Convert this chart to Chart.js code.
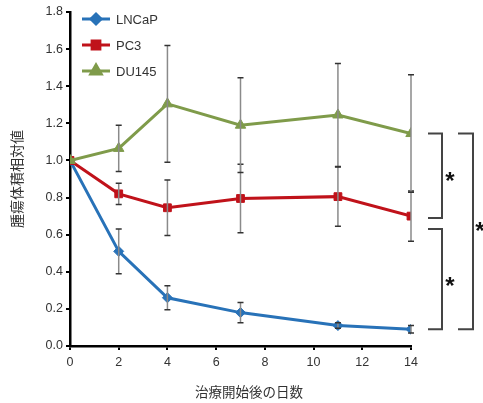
<!DOCTYPE html>
<html>
<head>
<meta charset="utf-8">
<script src="https://cdn.jsdelivr.net/npm/chart.js@4"></script>
<style>
  html, body { margin: 0; padding: 0; background: #fff; }
  #wrap { width: 483px; height: 403px; }
</style>
</head>
<body>
<div id="wrap"><canvas id="myChart" width="483" height="403"></canvas></div>
<script>
// data
const days = [0, 2, 4, 7, 11, 14];
const xTicks = [0, 2, 4, 6, 8, 10, 12, 14];
const lncapValues = [1.0, 0.51, 0.26, 0.18, 0.11, 0.09];
const lncapErrors = [0, 0.12, 0.065, 0.055, 0.015, 0.02];
const pc3Values = [1.0, 0.82, 0.745, 0.795, 0.805, 0.70];
const pc3Errors = [0, 0.057, 0.15, 0.185, 0.16, 0.135];
const du145Values = [1.0, 1.065, 1.305, 1.19, 1.245, 1.145];
const du145Errors = [0, 0.125, 0.315, 0.255, 0.278, 0.317];
const seriesNames = ['LNCaP', 'PC3', 'DU145'];
const yTitle = '腫瘍体積相対値';
const xTitle = '治療開始後の日数';

const BLUE = 'rgb(40, 114, 184)';
const RED = 'rgb(192, 18, 26)';
const GREEN = 'rgb(127, 155, 74)';

function pts(vals) {
    return days.map((d, i) => ({ x: d, y: vals[i] }));
}

// error bars, drawn over the lines
const errorBars = {
    id: 'errorBars',
    afterDatasetsDraw(chart) {
        const ctx = chart.ctx;
        const ys = chart.scales.y, xs = chart.scales.x;
        const sets = [[lncapValues, lncapErrors], [pc3Values, pc3Errors], [du145Values, du145Errors]];
        ctx.save();
        sets.forEach(([vals, errs]) => {
            days.forEach((d, i) => {
                if (!errs[i]) return;
                const x = xs.getPixelForValue(d);
                const top = ys.getPixelForValue(vals[i] + errs[i]);
                const bot = ys.getPixelForValue(vals[i] - errs[i]);
                ctx.strokeStyle = '#8a8a8a';
                ctx.lineWidth = 1.5;
                ctx.beginPath();
                ctx.moveTo(x, top); ctx.lineTo(x, bot);
                ctx.stroke();
                ctx.strokeStyle = '#333';
                ctx.beginPath();
                ctx.moveTo(x - 3, top); ctx.lineTo(x + 3, top);
                ctx.moveTo(x - 3, bot); ctx.lineTo(x + 3, bot);
                ctx.stroke();
            });
        });
        ctx.restore();
    }
};

// legend, axis titles and significance brackets
const extras = {
    id: 'extras',
    afterDraw(chart) {
        const ctx = chart.ctx;
        const area = chart.chartArea;
        const ys = chart.scales.y;
        ctx.save();

        // legend
        const styles = [[BLUE, 'rectRot', 5], [RED, 'rect', 5.5], [GREEN, 'triangle', 6]];
        seriesNames.forEach((name, i) => {
            const y = area.top + 7 + i * 26;
            ctx.strokeStyle = styles[i][0];
            ctx.lineWidth = 3;
            ctx.beginPath();
            ctx.moveTo(area.left + 12, y); ctx.lineTo(area.left + 40, y);
            ctx.stroke();
            ctx.fillStyle = styles[i][0];
            Chart.helpers.drawPoint(ctx, {
                pointStyle: styles[i][1], radius: styles[i][2], borderWidth: 1
            }, area.left + 26, y);
            ctx.fillStyle = '#333';
            ctx.font = '13px "Liberation Sans", Arial, sans-serif';
            ctx.textAlign = 'left';
            ctx.textBaseline = 'middle';
            ctx.fillText(name, area.left + 46, y + 1);
        });

        // axis titles
        ctx.fillStyle = '#333';
        ctx.font = '14px "Noto Sans CJK JP", sans-serif';
        ctx.textAlign = 'center';
        ctx.textBaseline = 'middle';
        ctx.save();
        ctx.translate(17, (area.top + area.bottom) / 2);
        ctx.rotate(-Math.PI / 2);
        ctx.fillText(yTitle, 0, 0);
        ctx.restore();
        ctx.font = '13.5px "Noto Sans CJK JP", sans-serif';
        ctx.fillText(xTitle, 249, 392);

        // brackets
        const yDu = ys.getPixelForValue(du145Values[du145Values.length - 1]);
        const yPc = ys.getPixelForValue(pc3Values[pc3Values.length - 1]);
        const yLn = ys.getPixelForValue(lncapValues[lncapValues.length - 1]);
        const r = area.right;
        ctx.strokeStyle = '#444';
        ctx.lineWidth = 2;
        function bracket(x0, x1, top, bot) {
            ctx.beginPath();
            ctx.moveTo(x0, top); ctx.lineTo(x1, top); ctx.lineTo(x1, bot); ctx.lineTo(x0, bot);
            ctx.stroke();
        }
        bracket(r + 17, r + 31, yDu, yPc + 2);
        bracket(r + 17, r + 31, yPc + 13, yLn);
        bracket(r + 47, r + 62, yDu, yLn);
        ctx.fillStyle = '#111';
        ctx.font = 'bold 24px "Liberation Sans", Arial, sans-serif';
        ctx.textAlign = 'center';
        ctx.textBaseline = 'middle';
        ctx.fillText('*', r + 39, (yDu + yPc) / 2 + 8);
        ctx.fillText('*', r + 39, (yPc + 13 + yLn) / 2 + 8);
        ctx.fillText('*', r + 69, (yDu + yLn) / 2 + 1);
        ctx.restore();
    }
};

const data = {
    datasets: [
        {
            label: seriesNames[0], data: pts(lncapValues), order: 2,
            borderColor: BLUE, backgroundColor: BLUE, borderWidth: 3,
            pointStyle: 'rectRot', pointRadius: 5, pointBorderWidth: 1
        },
        {
            label: seriesNames[1], data: pts(pc3Values), order: 1,
            borderColor: RED, backgroundColor: RED, borderWidth: 3,
            pointStyle: 'rect', pointRadius: 5.5, pointBorderWidth: 1
        },
        {
            label: seriesNames[2], data: pts(du145Values), order: 0,
            borderColor: GREEN, backgroundColor: GREEN, borderWidth: 3,
            pointStyle: 'triangle', pointRadius: 6, pointBorderWidth: 1
        }
    ]
};

const tickFont = { family: '"Liberation Sans", Arial, sans-serif', size: 12.5 };

const config = {
    type: 'line',
    data: data,
    options: {
        responsive: false,
        animation: false,
        devicePixelRatio: 1,
        layout: { padding: { left: 0, top: 12, right: 72, bottom: 0 } },
        plugins: { legend: { display: false }, tooltip: { enabled: false } },
        scales: {
            x: {
                type: 'linear', min: 0, max: 14,
                afterBuildTicks: (s) => { s.ticks = xTicks.map(v => ({ value: v })); },
                afterFit: (s) => { s.height = 57; },
                grid: { drawOnChartArea: false, drawTicks: true, tickLength: 4, color: '#000', lineWidth: 2 },
                border: { color: '#000', width: 2.5 },
                ticks: { color: '#333', font: tickFont, padding: 5, maxRotation: 0 }
            },
            y: {
                min: 0, max: 1.8,
                ticks: { stepSize: 0.2, color: '#333', font: tickFont, padding: 3,
                         callback: (v) => v.toFixed(1) },
                afterFit: (s) => { s.width = 70; },
                grid: { drawOnChartArea: false, drawTicks: true, tickLength: 4, color: '#000', lineWidth: 2 },
                border: { color: '#000', width: 2.5 }
            }
        }
    },
    plugins: [errorBars, extras]
};

document.addEventListener('DOMContentLoaded', function() {
    new Chart(document.getElementById('myChart'), config);
});
</script>
</body>
</html>
